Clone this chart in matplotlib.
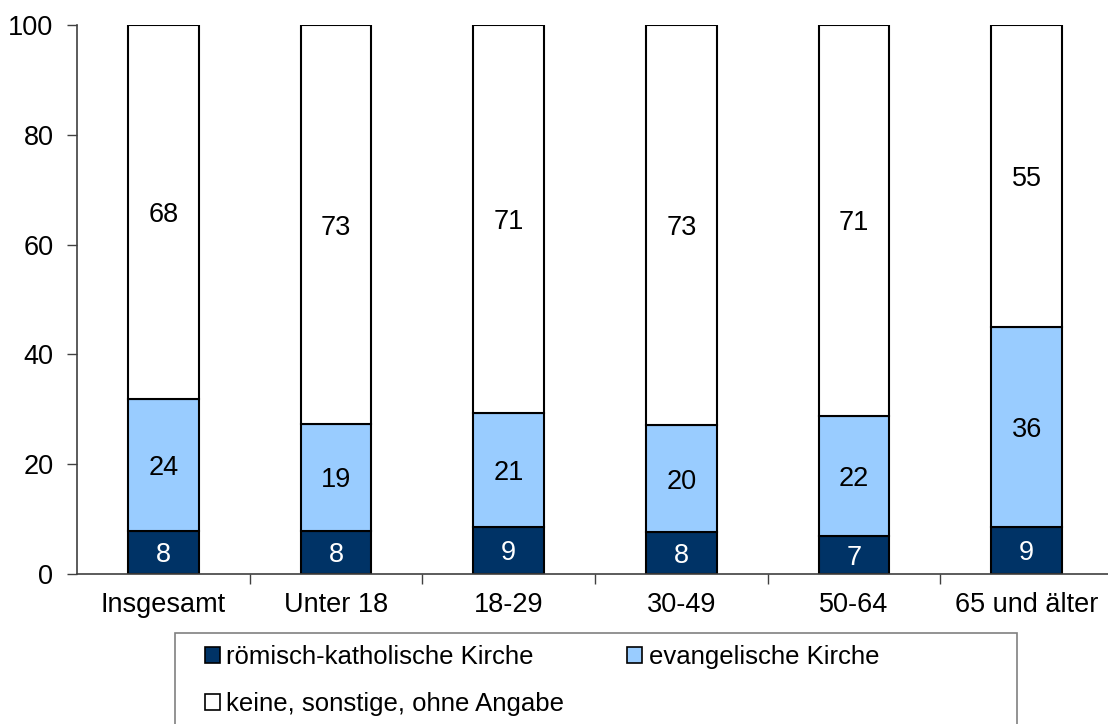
import matplotlib
matplotlib.use("Agg")
import matplotlib.pyplot as plt
from matplotlib.patches import Patch, Rectangle
import numpy as np

plt.rcParams["font.family"] = ["Liberation Sans", "DejaVu Sans"]

categories = ["Insgesamt", "Unter 18", "18-29", "30-49", "50-64", "65 und älter"]
series_names = ["römisch-katholische Kirche", "evangelische Kirche",
                "keine, sonstige, ohne Angabe"]
kath = [7.9, 7.9, 8.6, 7.6, 6.9, 8.6]
evang = [24.0, 19.4, 20.8, 19.6, 21.9, 36.3]
keine = [68.1, 72.7, 70.6, 72.8, 71.2, 55.1]
yticks = [0, 20, 40, 60, 80, 100]

colors = ["#003366", "#99CCFF", "#FFFFFF"]
text_colors = ["white", "black", "black"]
fs = 19.5

fig = plt.figure(figsize=(11.08, 7.24), dpi=100)
ax = fig.add_axes([77 / 1108, 1 - 574 / 724, 1036 / 1108, 549 / 724])

x = np.arange(len(categories))
bottom = np.zeros(len(categories))
for vals, name, col, tcol in zip([kath, evang, keine], series_names, colors, text_colors):
    bars = ax.bar(x, vals, width=0.41, bottom=bottom, color=col,
                  edgecolor="black", linewidth=1.5, label=name, zorder=2)
    labels = ax.bar_label(bars, fmt="%.0f", label_type="center", color=tcol, fontsize=fs)
    for t in labels:
        t.xyann = (0, -2.2)
    bottom += np.array(vals)

ax.set_xlim(-0.5, len(categories) - 0.5)
ax.set_ylim(0, 100)
ax.set_yticks(yticks)
ax.set_xticks(x)
ax.set_xticklabels(categories)
ax.set_xticks(x[:-1] + 0.5, minor=True)
ax.tick_params(axis="x", which="major", length=0, pad=13, labelsize=fs)
ax.tick_params(axis="x", which="minor", length=7, width=1, color="#404040")
ax.tick_params(axis="y", length=7, width=1, color="#404040", pad=10, labelsize=fs)
for s in ["top", "right"]:
    ax.spines[s].set_visible(False)
for s in ["left", "bottom"]:
    ax.spines[s].set_color("#404040")
    ax.spines[s].set_linewidth(1.2)

# legend fills column-wise, so reorder to get row-wise layout
handles = [Patch(facecolor=c, edgecolor="black", linewidth=1.2) for c in colors]
order = [0, 2, 1]
fig.legend([handles[i] for i in order], [series_names[i] for i in order],
           ncol=2, loc="upper left",
           bbox_to_anchor=(205 / 1108, 1 - 645 / 724), borderaxespad=0,
           borderpad=0, frameon=False, fontsize=18.5, handlelength=0.58,
           handleheight=0.58, handletextpad=0.25, columnspacing=2.45,
           labelspacing=0.9)
fig.add_artist(Rectangle((175 / 1108, -0.05), 842 / 1108, (724 - 633) / 724 + 0.05,
                         transform=fig.transFigure, fill=False,
                         edgecolor="#808080", linewidth=1.2))

fig.savefig("out.png", dpi=100)
